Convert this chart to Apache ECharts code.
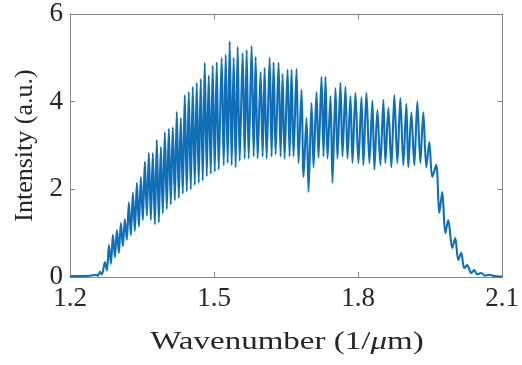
<!DOCTYPE html>
<html>
<head>
<meta charset="utf-8">
<script src="https://cdn.jsdelivr.net/npm/echarts@6/dist/echarts.min.js"></script>
<style>html,body{margin:0;padding:0;background:#fff;}#c{width:522px;height:365px;}</style>
</head>
<body>
<div id="c"></div>
<script>
// Wavenumber (1/um) and intensity (a.u.), alternating fringe peaks and troughs
var wavenumber = [
1.2000,1.2208,1.2416,1.2540,1.2582,1.2624,1.2665,1.2728,1.2769,1.2811,
1.2852,1.2894,1.2935,1.2977,1.3018,1.3060,1.3102,1.3143,1.3185,1.3226,
1.3268,1.3310,1.3351,1.3393,1.3434,1.3476,1.3517,1.3559,1.3601,1.3642,
1.3684,1.3725,1.3767,1.3808,1.3850,1.3892,1.3933,1.3975,1.4016,1.4058,
1.4099,1.4141,1.4183,1.4224,1.4266,1.4307,1.4349,1.4390,1.4432,1.4474,
1.4515,1.4557,1.4598,1.4640,1.4681,1.4723,1.4765,1.4806,1.4848,1.4889,
1.4931,1.4972,1.5014,1.5056,1.5097,1.5159,1.5201,1.5243,1.5284,1.5326,
1.5367,1.5409,1.5450,1.5492,1.5534,1.5596,1.5638,1.5679,1.5721,1.5783,
1.5825,1.5866,1.5908,1.5970,1.6012,1.6053,1.6095,1.6157,1.6199,1.6240,
1.6282,1.6344,1.6386,1.6427,1.6469,1.6531,1.6573,1.6614,1.6656,1.6718,
1.6760,1.6822,1.6864,1.6926,1.6968,1.7030,1.7072,1.7134,1.7176,1.7238,
1.7280,1.7321,1.7363,1.7425,1.7467,1.7529,1.7571,1.7633,1.7675,1.7737,
1.7779,1.7841,1.7883,1.7945,1.8007,1.8070,1.8111,1.8174,1.8236,1.8298,
1.8340,1.8402,1.8464,1.8527,1.8568,1.8631,1.8693,1.8755,1.8818,1.8880,
1.8942,1.9005,1.9046,1.9109,1.9171,1.9234,1.9296,1.9358,1.9421,1.9483,
1.9545,1.9628,1.9691,1.9753,1.9816,1.9878,1.9961,2.0023,2.0086,2.0148,
2.0211,2.0273,2.0356,2.0419,2.0481,2.0564,2.0647,2.0730,2.0834,2.0938,
2.1000
];
var intensity = [
0.02,0.02,0.03,0.05,0.03,0.12,0.06,0.34,0.15,0.73,
0.30,0.96,0.45,1.07,0.55,1.23,0.70,1.32,0.85,1.70,
0.95,1.92,1.05,2.15,1.15,2.28,1.30,2.63,1.40,2.83,
1.30,2.83,1.20,3.13,1.25,2.97,1.45,3.30,1.55,3.38,
1.65,3.42,1.75,3.77,1.80,3.63,1.90,4.15,1.95,4.22,
2.00,4.34,2.10,4.43,2.15,4.52,2.20,4.89,2.30,4.60,
2.35,4.82,2.40,4.90,2.45,5.00,2.55,5.07,2.60,5.37,
2.55,5.00,2.50,5.25,2.65,5.11,2.70,5.18,2.70,5.27,
2.75,5.02,2.70,4.68,2.75,4.77,2.70,5.00,2.75,4.90,
2.80,4.89,2.75,4.63,2.70,4.73,2.75,4.73,2.75,4.75,
2.60,4.27,2.28,3.63,1.94,3.97,2.50,4.22,2.72,4.57,
2.75,4.57,2.70,4.13,2.15,4.31,2.70,4.43,2.75,4.34,
2.70,4.13,2.60,4.20,2.60,4.10,2.55,4.20,2.60,4.02,
2.45,3.81,2.55,4.04,2.60,3.86,2.50,4.15,2.60,4.08,
2.55,3.95,2.50,3.76,2.55,4.00,2.60,3.76,2.50,3.08,
2.28,2.56,1.46,1.94,1.00,1.30,0.66,0.89,0.39,0.55,
0.20,0.27,0.09,0.16,0.06,0.09,0.03,0.05,0.02,0.01,
0.01
];
var xTicks = [1.2, 1.5, 1.8, 2.1];
var yTicks = [0, 2, 4, 6];
var xTitle = '{a|Wavenumber (1/}{i|μ}{a|m)}';
var yTitle = 'Intensity (a.u.)';

var pts = wavenumber.map(function (x, i) { return [x, intensity[i]]; });
var font = '"Liberation Serif", "Times New Roman", serif';
var frame = '#858585';
var txt = '#262626';

function xAx(pos, labels) {
  return {
    type: 'value', position: pos, min: xTicks[0], max: xTicks[xTicks.length - 1],
    interval: 0.3,
    axisLine: { show: true, onZero: false, lineStyle: { color: frame, width: 1 } },
    axisTick: { show: true, inside: true, length: 5, lineStyle: { color: frame } },
    splitLine: { show: false },
    axisLabel: { show: labels, margin: 8, color: txt, fontFamily: font, fontSize: 27,
      formatter: function (v) { return v.toFixed(1); } }
  };
}
function yAx(pos, labels) {
  return {
    type: 'value', position: pos, min: yTicks[0], max: yTicks[yTicks.length - 1],
    interval: 2,
    axisLine: { show: true, onZero: false, lineStyle: { color: frame, width: 1 } },
    axisTick: { show: true, inside: true, length: 5, lineStyle: { color: frame } },
    splitLine: { show: false },
    axisLabel: { show: labels, margin: 7, color: txt, fontFamily: font, fontSize: 27 }
  };
}

var y0 = yAx('left', true);
y0.name = yTitle;
y0.nameLocation = 'middle';
y0.nameGap = 29;
y0.nameTextStyle = { fontFamily: font, fontSize: 26, color: txt };

var chart = echarts.init(document.getElementById('c'), null, { renderer: 'canvas' });
chart.setOption({
  animation: false,
  backgroundColor: '#fff',
  grid: { left: 70, right: 19, top: 14, bottom: 88 },
  xAxis: [xAx('bottom', true), xAx('top', false)],
  yAxis: [y0, yAx('right', false)],
  graphic: [{
    type: 'text', x: 287, y: 342, scaleX: 1.27,
    style: {
      text: xTitle, align: 'center', verticalAlign: 'middle',
      rich: {
        a: { fontFamily: font, fontSize: 26, fill: txt, color: txt },
        i: { fontFamily: font, fontSize: 26, fill: txt, color: txt, fontStyle: 'italic' }
      }
    }
  }],
  series: [{
    type: 'line', xAxisIndex: 0, yAxisIndex: 0, data: pts,
    showSymbol: false, smooth: 0.3,
    lineStyle: { color: '#0e6fb8', width: 2.1 }
  }]
});
</script>
</body>
</html>
